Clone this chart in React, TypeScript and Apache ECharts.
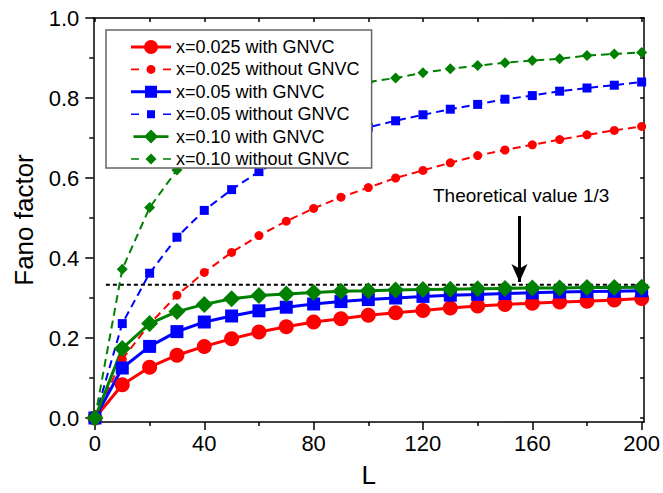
import { useEffect, useRef } from 'react';
import * as echarts from 'echarts';

const L = [0, 10, 20, 30, 40, 50, 60, 70, 80, 90, 100, 110, 120, 130, 140, 150, 160, 170, 180, 190, 200];

const redWith = [0, 0.083, 0.127, 0.157, 0.179, 0.198, 0.215, 0.228, 0.240, 0.248, 0.257, 0.263, 0.269, 0.275, 0.280, 0.284, 0.287, 0.290, 0.292, 0.295, 0.299];
const redWithout = [0, 0.147, 0.235, 0.307, 0.364, 0.414, 0.456, 0.492, 0.524, 0.552, 0.576, 0.600, 0.619, 0.638, 0.656, 0.670, 0.683, 0.696, 0.708, 0.719, 0.729];
const blueWith = [0, 0.125, 0.179, 0.216, 0.240, 0.255, 0.268, 0.277, 0.285, 0.291, 0.296, 0.300, 0.304, 0.307, 0.309, 0.311, 0.313, 0.315, 0.316, 0.317, 0.318];
const blueWithout = [0, 0.236, 0.362, 0.452, 0.519, 0.571, 0.616, 0.652, 0.682, 0.707, 0.727, 0.743, 0.758, 0.772, 0.784, 0.797, 0.806, 0.817, 0.825, 0.832, 0.840];
const greenWith = [0, 0.174, 0.236, 0.266, 0.284, 0.298, 0.306, 0.310, 0.314, 0.317, 0.318, 0.320, 0.321, 0.322, 0.323, 0.324, 0.325, 0.325, 0.326, 0.326, 0.327];
const greenWithout = [0, 0.372, 0.526, 0.620, 0.685, 0.733, 0.768, 0.795, 0.815, 0.829, 0.840, 0.850, 0.863, 0.873, 0.881, 0.888, 0.894, 0.898, 0.906, 0.910, 0.914];

const seriesNames = [
  'x=0.025 with GNVC',
  'x=0.025 without GNVC',
  'x=0.05 with GNVC',
  'x=0.05 without GNVC',
  'x=0.10 with GNVC',
  'x=0.10 without GNVC',
];

const theoryValue = 1 / 3;
const theoryLine = [[4, theoryValue], [200.9, theoryValue]];
const arrowL = 155.3;
const arrowTop = 0.505;
const arrowTip = 0.34;
const annotationText = 'Theoretical value 1/3';

const xMajor = [0, 40, 80, 120, 160, 200];
const xMinor = [20, 60, 100, 140, 180];
const xTopTicks = [0, 20, 40, 60, 80, 100, 120, 140, 160, 180, 200];
const yMajor = [0, 0.2, 0.4, 0.6, 0.8, 1.0];
const yMinor = [0.1, 0.3, 0.5, 0.7, 0.9];
const yRightTicks = [0, 0.1, 0.2, 0.3, 0.4, 0.5, 0.6, 0.7, 0.8, 0.9, 1.0];

const X_MIN = -0.6;
const X_MAX = 200.9;
const Y_MIN = -0.01;
const Y_MAX = 1.0;

const RED = '#FF0000';
const BLUE = '#0000FF';
const GREEN = '#008000';
const FONT = 'Liberation Sans, Arial, sans-serif';

const corners = 'M0,0L0.01,0L0,0.01Z M40,14L39.99,14L40,13.99Z ';
const solidLine = 'M0,5.5H40V8.5H0Z ';
const dashes = 'M0,6.2H8V7.8H0Z M32,6.2H40V7.8H32Z ';
const icons = [
  'path://' + corners + solidLine + 'M20,0A7,7 0 1,1 20,14A7,7 0 1,1 20,0Z',
  'path://' + corners + dashes + 'M20,2.5A4.5,4.5 0 1,1 20,11.5A4.5,4.5 0 1,1 20,2.5Z',
  'path://' + corners + solidLine + 'M14,1H26V13H14Z',
  'path://' + corners + dashes + 'M16,3H24V11H16Z',
  'path://' + corners + solidLine + 'M20,-1L28,7L20,15L12,7Z',
  'path://' + corners + dashes + 'M20,1.5L25.5,7L20,12.5L14.5,7Z',
];

function pairs(ys: number[]) {
  return L.map((x, i) => [x, ys[i]]);
}

export default function App() {
  const ref = useRef<HTMLDivElement>(null);
  useEffect(() => {
    document.body.style.margin = '0';
    const chart = echarts.init(ref.current!, null, { renderer: 'svg' });
    const axisLineStyle = { color: '#000', width: 1.5 };
    const mk = (name: string, ys: number[], color: string, symbol: string, size: number, dashed: boolean) => ({
      name,
      type: 'line',
      data: pairs(ys),
      xAxisIndex: 0,
      yAxisIndex: 0,
      symbol,
      symbolSize: size,
      showSymbol: true,
      lineStyle: { color, width: dashed ? 2 : 3, type: dashed ? [8, 5] : 'solid' },
      itemStyle: { color, borderWidth: 0 },
      emphasis: { disabled: true },
    });
    chart.setOption({
      animation: false,
      backgroundColor: '#fff',
      grid: { left: 93.3, right: 18, top: 18, bottom: 67, containLabel: false },
      legend: {
        orient: 'vertical',
        left: 106,
        top: 30,
        itemWidth: 40,
        itemHeight: 14,
        itemGap: 4.4,
        padding: [8, 12, 0, 25],
        borderColor: '#666',
        borderWidth: 1.5,
        backgroundColor: '#fff',
        textStyle: { fontSize: 18, lineHeight: 14, fontFamily: FONT, color: '#000' },
        itemStyle: { borderWidth: 0 },
        data: seriesNames.map((n, i) => ({ name: n, icon: icons[i] })),
      },
      xAxis: [
        {
          type: 'value', min: X_MIN, max: X_MAX, position: 'bottom',
          axisLine: { show: true, onZero: false, lineStyle: axisLineStyle },
          axisTick: { show: true, inside: false, length: 8, customValues: xMajor, lineStyle: axisLineStyle },
          axisLabel: { show: true, customValues: xMajor, fontSize: 22, margin: 10, color: '#000', fontFamily: FONT },
          splitLine: { show: false },
          name: 'L', nameLocation: 'middle', nameGap: 40,
          nameTextStyle: { fontSize: 26, fontFamily: FONT, color: '#000' },
        },
        {
          type: 'value', min: X_MIN, max: X_MAX, position: 'bottom',
          axisLine: { show: false, onZero: false },
          axisTick: { show: true, inside: false, length: 4, customValues: xMinor, lineStyle: axisLineStyle },
          axisLabel: { show: false },
          splitLine: { show: false },
        },
        {
          type: 'value', min: X_MIN, max: X_MAX, position: 'top',
          axisLine: { show: true, onZero: false, lineStyle: axisLineStyle },
          axisTick: { show: true, inside: true, length: 4, customValues: xTopTicks, lineStyle: axisLineStyle },
          axisLabel: { show: false },
          splitLine: { show: false },
        },
      ],
      yAxis: [
        {
          type: 'value', min: Y_MIN, max: Y_MAX, position: 'left',
          axisLine: { show: true, onZero: false, lineStyle: axisLineStyle },
          axisTick: { show: true, inside: false, length: 8, customValues: yMajor, lineStyle: axisLineStyle },
          axisLabel: { show: true, customValues: yMajor, fontSize: 22, margin: 14, color: '#000', fontFamily: FONT, formatter: (v: number) => v.toFixed(1) },
          splitLine: { show: false },
          name: 'Fano factor', nameLocation: 'middle', nameGap: 56,
          nameTextStyle: { fontSize: 26, fontFamily: FONT, color: '#000' },
        },
        {
          type: 'value', min: Y_MIN, max: Y_MAX, position: 'left',
          axisLine: { show: false, onZero: false },
          axisTick: { show: true, inside: false, length: 4, customValues: yMinor, lineStyle: axisLineStyle },
          axisLabel: { show: false },
          splitLine: { show: false },
        },
        {
          type: 'value', min: Y_MIN, max: Y_MAX, position: 'right',
          axisLine: { show: true, onZero: false, lineStyle: axisLineStyle },
          axisTick: { show: true, inside: true, length: 4, customValues: yRightTicks, lineStyle: axisLineStyle },
          axisLabel: { show: false },
          splitLine: { show: false },
        },
      ],
      graphic: [
        {
          type: 'text', left: 433, top: 186, z: 100,
          style: { text: annotationText, fontSize: 19, fontFamily: FONT, fill: '#000' },
        },
      ],
      series: [
        {
          name: 'theory',
          type: 'line',
          data: theoryLine,
          xAxisIndex: 0,
          yAxisIndex: 0,
          showSymbol: false,
          symbol: 'none',
          lineStyle: { color: '#000', width: 2, type: [4, 3] },
          z: 1,
          emphasis: { disabled: true },
          markLine: {
            silent: true,
            symbol: ['none', 'arrow'],
            symbolSize: [12, 18],
            label: { show: false },
            lineStyle: { color: '#000', width: 3, type: 'solid' },
            data: [[{ coord: [arrowL, arrowTop] }, { coord: [arrowL, arrowTip] }]],
          },
        },
        mk(seriesNames[0], redWith, RED, 'circle', 15, false),
        mk(seriesNames[1], redWithout, RED, 'circle', 9, true),
        mk(seriesNames[2], blueWith, BLUE, 'rect', 13, false),
        mk(seriesNames[3], blueWithout, BLUE, 'rect', 9, true),
        mk(seriesNames[4], greenWith, GREEN, 'diamond', 17, false),
        mk(seriesNames[5], greenWithout, GREEN, 'diamond', 11, true),
      ],
    });
    return () => chart.dispose();
  }, []);
  return <div ref={ref} style={{ width: 663, height: 493 }} />;
}
